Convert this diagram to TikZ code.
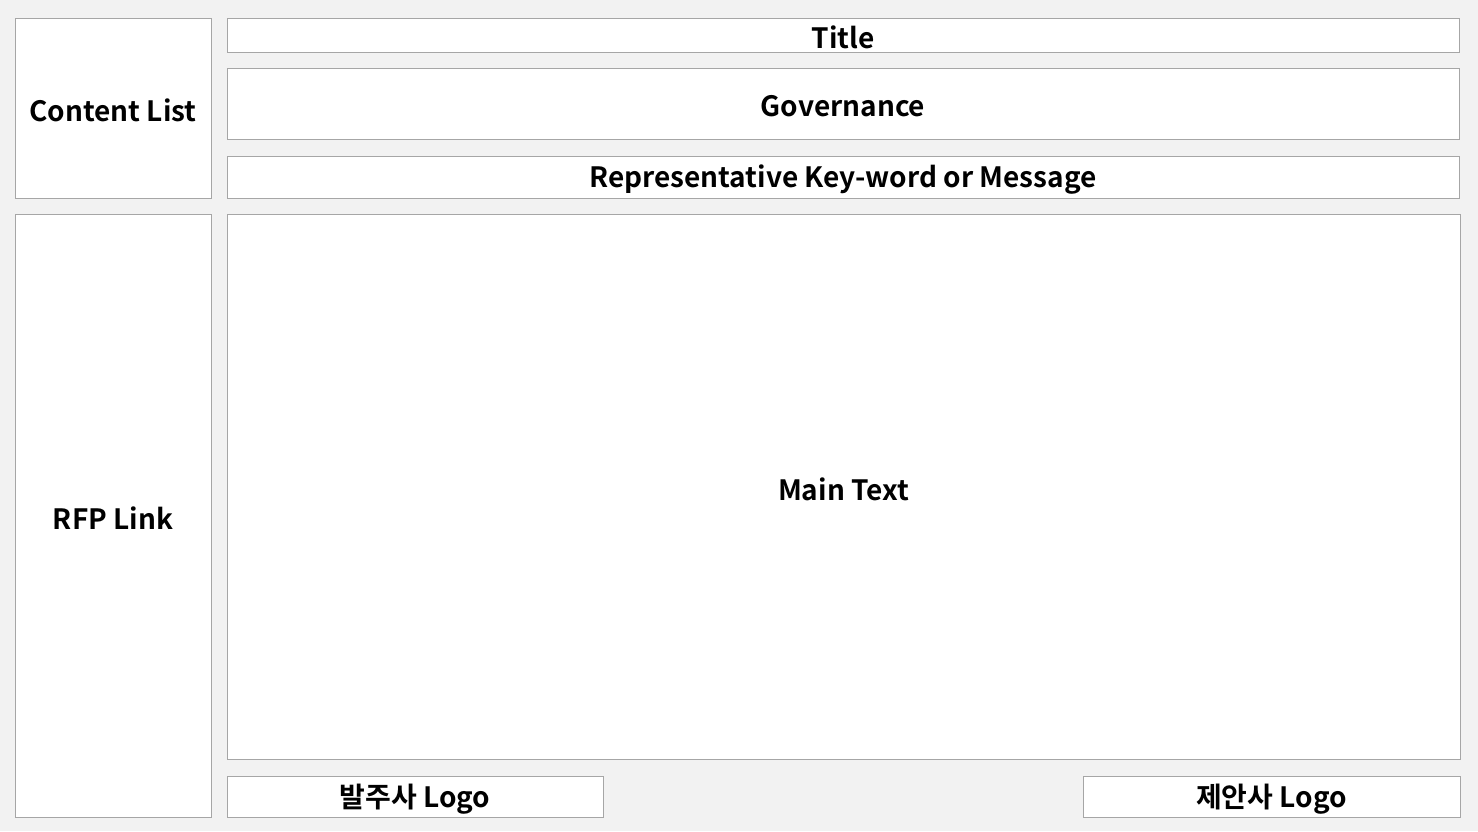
\documentclass[tikz,border=0pt]{standalone}
\usepackage{fontspec}
\setmainfont{Noto Sans CJK KR}[BoldFont={Noto Sans CJK KR Bold}]
\definecolor{bg}{HTML}{F2F2F2}
\definecolor{edge}{HTML}{A6A6A6}
\tikzset{
  panel/.style={draw=edge, fill=white, line width=1pt, inner sep=0pt, outer sep=0pt},
  panellabel/.style={font=\bfseries\fontsize{28}{30}\selectfont, text=black, inner sep=0pt, yshift=-2.5pt},
}
\newcommand{\panelbox}[6]{%
  \node[panel, minimum width=#4-#2, minimum height=#5-#3, anchor=north west] (#1) at (#2,#3) {};
  \node[panellabel] (#1-label) at (#1.center) {#6};}
\begin{document}
\begin{tikzpicture}[x=1pt,y=-1pt]
\fill[bg] (0,0) rectangle (1478,831);
\useasboundingbox (0,0) rectangle (1478,831);
\panelbox{content}{15}{18}{211}{198}{Content List}
\panelbox{title}{227}{18}{1459}{52}{Title}
\panelbox{gov}{227}{68}{1459}{139}{Governance}
\panelbox{rep}{227}{156}{1459}{198}{Representative Key-word or Message}
\panelbox{rfp}{15}{214}{211}{817}{RFP Link}
\panelbox{main}{227}{214}{1460}{759}{Main Text}
\panelbox{client}{227}{776}{603}{817}{발주사 Logo}
\panelbox{proposer}{1083}{776}{1460}{817}{제안사 Logo}
\end{tikzpicture}
\end{document}
